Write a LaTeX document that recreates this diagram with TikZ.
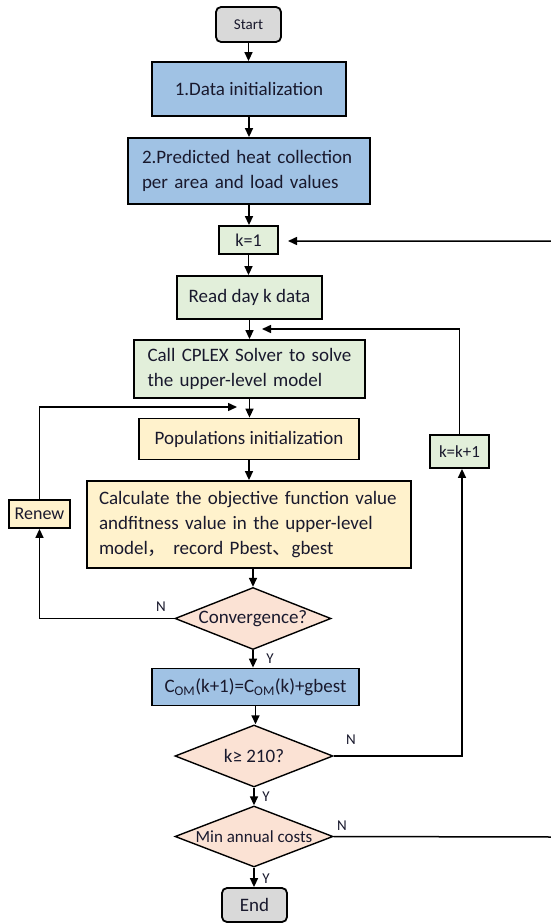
\documentclass[tikz,border=0pt]{standalone}
\usepackage{fontspec}
\setmainfont{Carlito}
\newfontfamily\cjkf{Noto Sans CJK SC}
\usetikzlibrary{shapes.geometric,arrows.meta}
\definecolor{blueF}{RGB}{160,194,228}
\definecolor{greenF}{RGB}{226,239,218}
\definecolor{yellowF}{RGB}{255,242,204}
\definecolor{peachF}{RGB}{251,226,212}
\definecolor{grayF}{RGB}{217,217,217}
\definecolor{txt}{RGB}{25,25,45}
\tikzset{
  box/.style={draw=black, line width=1.8pt, text=txt, inner sep=2pt,
    font=\fontsize{19}{25}\selectfont},
  term/.style={box, fill=grayF, rounded corners=5pt},
  bluebox/.style={box, fill=blueF},
  greenbox/.style={box, fill=greenF},
  yellowbox/.style={box, fill=yellowF},
  dia/.style={draw=black, line width=1.4pt, diamond, fill=peachF, text=txt,
    inner sep=0pt, aspect=2.5, font=\fontsize{19}{23}\selectfont},
  arr/.style={draw=black, line width=1.5pt, -{Triangle[length=9pt,width=8pt]}},
  lab/.style={text=txt, font=\fontsize{15}{17}\selectfont, inner sep=0pt}
}
\begin{document}
\begin{tikzpicture}[x=1pt,y=-1pt]
\useasboundingbox (0,0) rectangle (551,923);
% nodes
\node[term, minimum width=65pt, minimum height=35pt, font=\fontsize{15}{18}\selectfont] (start) at (248.5,24.5) {Start};
\node[bluebox, minimum width=194pt, minimum height=54pt] (data) at (249,89) {1.Data initialization};
\node[bluebox, minimum width=242pt, minimum height=66pt, text width=214pt, align=left] (pred) at (249,171) {2.Predicted heat collection\\per area and load values};
\node[greenbox, minimum width=59pt, minimum height=28pt, font=\fontsize{18}{22}\selectfont] (k1) at (248.5,240) {k=1};
\node[greenbox, minimum width=145pt, minimum height=43pt] (read) at (249.5,297.5) {Read day k data};
\node[greenbox, minimum width=231pt, minimum height=58pt, text width=204pt, align=left] (cplex) at (249.5,369) {Call CPLEX Solver to solve\\the upper-level model};
\node[yellowbox, minimum width=220pt, minimum height=41pt] (pop) at (249,439) {Populations initialization};
\node[yellowbox, minimum width=324pt, minimum height=87pt, text width=300pt, align=left] (calc) at (249,524.5) {Calculate the objective function value\\andfitness value in the upper-level\\model{\cjkf ，} record Pbest{\cjkf 、}gbest};
\node[yellowbox, minimum width=61pt, minimum height=28pt, font=\fontsize{18}{22}\selectfont] (renew) at (39.5,514) {Renew};
\node[greenbox, minimum width=59pt, minimum height=33pt, font=\fontsize{17}{21}\selectfont] (kk1) at (459.5,451.5) {k=k+1};
\node[dia, minimum width=156pt, minimum height=62pt] (conv) at (253,618.5) {Convergence?};
\node[bluebox, minimum width=207pt, minimum height=37pt] (com) at (255.5,687) {C\textsubscript{OM}(k+1)=C\textsubscript{OM}(k)+gbest};
\node[dia, minimum width=158pt, minimum height=62pt] (k210) at (254,756) {k≥ 210?};
\node[dia, minimum width=158pt, minimum height=61pt, font=\fontsize{17}{20}\selectfont] (minc) at (254,836.5) {Min annual costs};
\node[term, minimum width=65pt, minimum height=34pt, font=\fontsize{19}{22}\selectfont] (end) at (254.5,905) {End};
% merge points
\coordinate (m1) at (262,329);
\coordinate (m2) at (237,407);
\coordinate (rr2) at (553,837);
\coordinate (rr1) at (553,241);
\coordinate (k1in) at (288,241);
% main arrows
\draw[arr] (start.south) -- (start.south |- data.north);
\draw[arr] (data.south) -- (data.south |- pred.north);
\draw[arr] (pred.south) -- (pred.south |- k1.north);
\draw[arr] (k1.south) -- (k1.south |- read.north);
\draw[arr] (read.south) -- (read.south |- cplex.north);
\draw[arr] (cplex.south) -- (cplex.south |- pop.north);
\draw[arr] (pop.south) -- (pop.south |- calc.north);
\draw[arr] ([xshift=4pt]calc.south) -- ([xshift=4pt]calc.south |- conv.north);
\draw[arr] (conv.south) -- (conv.south |- com.north);
\draw[arr] (com.south) -- (com.south |- k210.north);
\draw[arr] (k210.south) -- (k210.south |- minc.north);
\draw[arr] (minc.south) -- (minc.south |- end.north);
% loops
\draw[arr] (kk1.north) |- (m1);
\draw[arr] (renew.north) |- (m2);
\draw[arr] (conv.west) -| (renew.south);
\draw[arr] (k210.east) -| ([xshift=2.5pt]kk1.south);
\draw[arr] (minc.east) -- (rr2) -- (rr1) -- (k1in);
% labels
\node[lab] (n1) at (161,607) {N};
\node[lab] (y1) at (270,659) {Y};
\node[lab] (n2) at (351,740) {N};
\node[lab] (y2) at (266,797) {Y};
\node[lab] (n3) at (342,826) {N};
\node[lab] (y3) at (266,879) {Y};
\end{tikzpicture}
\end{document}
